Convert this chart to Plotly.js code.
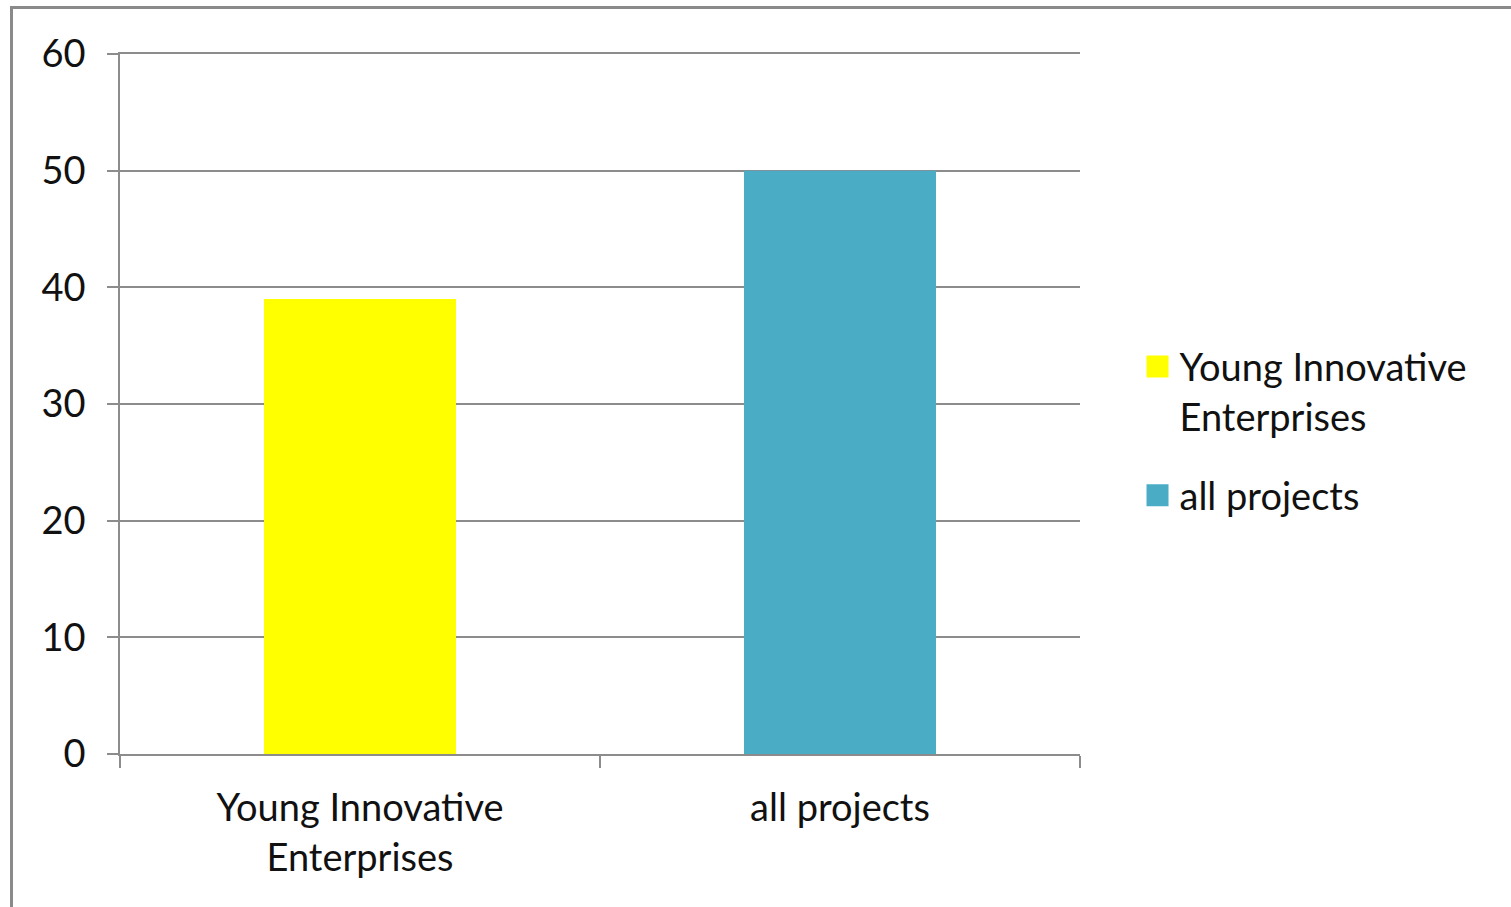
<!DOCTYPE html>
<html>
<head>
<meta charset="utf-8">
<script src="https://cdn.plot.ly/plotly-3.0.1.min.js"></script>
<style>
  html, body { margin: 0; padding: 0; background: #fff; }
  #chart { width: 1511px; height: 907px; }
  #frame { position: absolute; left: 10px; top: 6px; width: 1520px; height: 920px;
           border-left: 3px solid #8a8a8a; border-top: 3px solid #8a8a8a; pointer-events: none; }
</style>
</head>
<body>
<div id="chart"></div>
<div id="frame"></div>
<script>
const categories = ["Young Innovative<br>Enterprises", "all projects"];
const seriesNames = ["Young Innovative<br>Enterprises", "all projects"];
const seriesValues = [39, 50];
const seriesColors = ["#FFFF00", "#4BACC6"];
const yTicks = [0, 10, 20, 30, 40, 50, 60];

const fontFam = "Lato, 'Open Sans', sans-serif";
const FS = 38;
const traces = seriesNames.map((n, i) => ({
  type: "bar",
  name: n,
  legendgroup: "g" + i,
  x: [categories[i]],
  y: [seriesValues[i]],
  width: 0.4,
  marker: { color: seriesColors[i], line: { width: 0 } },
  hoverinfo: "x+y"
}));

const layout = {
  width: 1511, height: 907,
  margin: { l: 120, r: 431, t: 54, b: 153 },
  paper_bgcolor: "#fff", plot_bgcolor: "#fff",
  barmode: "overlay",
  font: { family: fontFam, size: FS, color: "#111" },
  showlegend: true,
  legend: {
    x: 1.062, xanchor: "left", y: 0.461, yanchor: "middle",
    valign: "top",
    font: { family: fontFam, size: FS, color: "#111" },
    tracegroupgap: 27, itemwidth: 30, bgcolor: "rgba(0,0,0,0)"
  },
  xaxis: {
    type: "category",
    categoryorder: "array", categoryarray: categories,
    showline: true, linecolor: "#8c8c8c", linewidth: 1.5, mirror: true,
    ticks: "outside", tickson: "boundaries", ticklen: 12, tickcolor: "#8c8c8c", tickwidth: 1.5,
    showgrid: false, zeroline: false,
    tickfont: { family: fontFam, size: FS, color: "#111" },
    ticklabelstandoff: 20
  },
  yaxis: {
    range: [0, 60],
    tickmode: "array", tickvals: yTicks, ticktext: yTicks.map(String),
    showline: true, linecolor: "#8c8c8c", linewidth: 1.5,
    ticks: "outside", ticklen: 11, tickcolor: "#8c8c8c", tickwidth: 1.5,
    showgrid: true, gridcolor: "#8c8c8c", gridwidth: 1.5,
    zeroline: false,
    tickfont: { family: fontFam, size: FS, color: "#111" },
    ticklabelstandoff: 14
  }
};

Plotly.newPlot("chart", traces, layout, { displayModeBar: false, responsive: false }).then(gd => {
  // enlarge the legend swatches to match the reference's larger square markers
  gd.querySelectorAll(".legend .legendpoints path").forEach(p => {
    p.setAttribute("d", "M11,11H-11V-11H11Z");
    const t = p.getAttribute("transform") || "";
    p.setAttribute("transform", (t + " translate(-2,0)").trim());
  });
});
</script>
</body>
</html>
